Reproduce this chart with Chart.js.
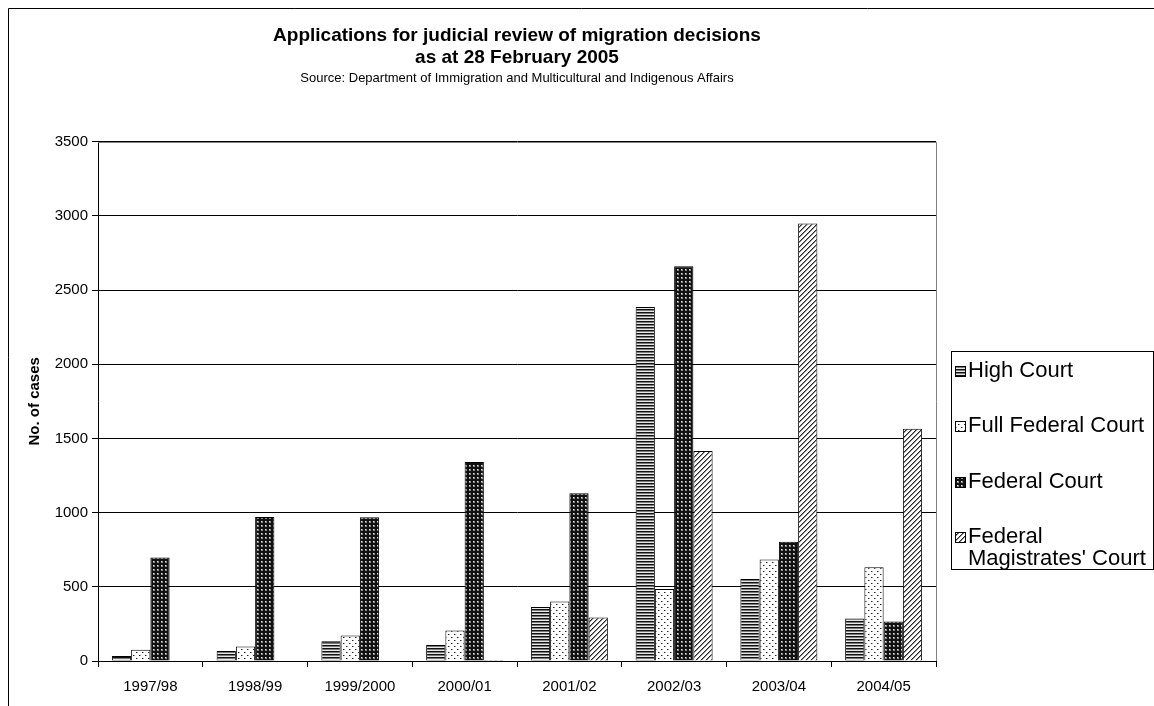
<!DOCTYPE html>
<html>
<head>
<meta charset="utf-8">
<script src="https://cdn.jsdelivr.net/npm/chart.js@4/dist/chart.umd.min.js"></script>
<style>
  html, body { margin: 0; padding: 0; background: #fff; }
  #wrap { position: relative; width: 1154px; height: 706px; }
</style>
</head>
<body>
<div id="wrap"><canvas id="c" width="1154" height="706"></canvas></div>
<script>
const categories = ['1997/98', '1998/99', '1999/2000', '2000/01', '2001/02', '2002/03', '2003/04', '2004/05'];
const seriesNames = ['High Court', 'Full Federal Court', 'Federal Court', "Federal Magistrates' Court"];
const highCourt = [34, 67, 133, 107, 364, 2385, 552, 287];
const fullFederalCourt = [75, 98, 172, 205, 401, 485, 684, 632];
const federalCourt = [697, 970, 968, 1342, 1131, 2660, 804, 267];
const federalMagistratesCourt = [null, null, null, 6, 294, 1415, 2949, 1566];
const yTicks = [0, 500, 1000, 1500, 2000, 2500, 3000, 3500];
const titleLines = ['Applications for judicial review of migration decisions', 'as at 28 February 2005'];
const subtitleText = 'Source: Department of Immigration and Multicultural and Indigenous Affairs';
const yAxisTitle = 'No. of cases';
const legendLines = [['High Court'], ['Full Federal Court'], ['Federal Court'], ['Federal', "Magistrates' Court"]];

const FONT = "'Liberation Sans', Arial, sans-serif";

function makePattern(kind) {
  const c = document.createElement('canvas');
  const ctx = c.getContext('2d');
  if (kind === 'hstripe') {
    c.width = 4; c.height = 3;
    ctx.fillStyle = '#e8e8e8'; ctx.fillRect(0, 0, 4, 3);
    ctx.fillStyle = '#111111'; ctx.fillRect(0, 0, 4, 1);
    ctx.fillStyle = '#7a7a7a'; ctx.fillRect(0, 1, 4, 1);
  } else if (kind === 'dots') {
    c.width = 6; c.height = 6;
    ctx.fillStyle = '#ffffff'; ctx.fillRect(0, 0, 6, 6);
    ctx.fillStyle = '#222222';
    ctx.fillRect(1, 1, 1, 1); ctx.fillRect(4, 4, 1, 1);
    ctx.fillStyle = '#9a9a9a';
    ctx.fillRect(2, 1, 1, 1); ctx.fillRect(5, 4, 1, 1);
  } else if (kind === 'grid') {
    c.width = 4; c.height = 4;
    ctx.fillStyle = '#111111'; ctx.fillRect(0, 0, 4, 4);
    ctx.fillStyle = '#8c8c8c'; ctx.fillRect(1, 1, 2, 2);
    ctx.fillStyle = '#e0e0e0'; ctx.fillRect(1, 1, 1, 1);
  } else if (kind === 'diag') {
    c.width = 5; c.height = 5;
    const img = ctx.createImageData(5, 5);
    for (let y = 0; y < 5; y++) {
      for (let x = 0; x < 5; x++) {
        const m = (x + y) % 5;
        let v = 255;
        if (m === 0) v = 40; else if (m === 1) v = 140;
        const i = (y * 5 + x) * 4;
        img.data[i] = v; img.data[i + 1] = v; img.data[i + 2] = v; img.data[i + 3] = 255;
      }
    }
    ctx.putImageData(img, 0, 0);
  }
  return ctx.createPattern(c, 'repeat');
}

const fills = [makePattern('hstripe'), makePattern('dots'), makePattern('grid'), makePattern('diag')];
const seriesValues = [highCourt, fullFederalCourt, federalCourt, federalMagistratesCourt];

const PLOT_LEFT = 98, PLOT_RIGHT = 936, PLOT_BOTTOM = 661;

const frameAndLegend = {
  id: 'frameAndLegend',
  beforeDraw(chart) {
    const ctx = chart.ctx;
    ctx.save();
    ctx.fillStyle = '#ffffff';
    ctx.fillRect(0, 0, chart.width, chart.height);
    ctx.restore();
  },
  afterDraw(chart) {
    const ctx = chart.ctx;
    const a = chart.chartArea;
    ctx.save();
    // outer frame
    ctx.strokeStyle = '#000';
    ctx.lineWidth = 1;
    ctx.beginPath();
    ctx.moveTo(8.5, chart.height);
    ctx.lineTo(8.5, 8.5);
    ctx.lineTo(chart.width, 8.5);
    ctx.stroke();
    // plot area gray top/right border
    ctx.strokeStyle = '#808080';
    ctx.beginPath();
    ctx.moveTo(a.left, Math.round(a.top) + 0.5);
    ctx.lineTo(Math.round(a.right) + 0.5, Math.round(a.top) + 0.5);
    ctx.lineTo(Math.round(a.right) + 0.5, a.bottom);
    ctx.stroke();
    // legend box
    const bx = 951, by = 351, bw = 202, bh = 218;
    ctx.strokeStyle = '#000';
    ctx.lineWidth = 1;
    ctx.strokeRect(bx + 0.5, by + 0.5, bw, bh);
    const rowY = [371, 426, 482, 537];
    const lineGap = 22;
    ctx.font = '22px ' + FONT;
    ctx.textBaseline = 'middle';
    ctx.textAlign = 'left';
    chart.data.datasets.forEach((ds, i) => {
      const y = rowY[i];
      const sw = 11;
      const sx = 955, sy = Math.round(y - sw / 2);
      ctx.fillStyle = ds.backgroundColor;
      ctx.fillRect(sx, sy, sw, sw);
      ctx.strokeStyle = '#000';
      ctx.strokeRect(sx + 0.5, sy + 0.5, sw - 1, sw - 1);
      ctx.fillStyle = '#000';
      legendLines[i].forEach((t, k) => {
        ctx.fillText(t, 968, y + k * lineGap);
      });
    });
    ctx.restore();
  }
};

new Chart(document.getElementById('c'), {
  type: 'bar',
  data: {
    labels: categories,
    datasets: seriesNames.map((name, i) => ({
      label: name,
      data: seriesValues[i],
      backgroundColor: fills[i],
      borderColor: '#000',
      borderWidth: 1,
      borderSkipped: 'bottom',
      categoryPercentage: 0.735,
      barPercentage: 1.0
    }))
  },
  options: {
    responsive: false,
    animation: false,
    devicePixelRatio: 1,
    layout: { padding: { left: 0, right: 1154 - PLOT_RIGHT, top: 0, bottom: 0 } },
    plugins: {
      legend: { display: false },
      tooltip: { enabled: false },
      title: {
        display: true,
        text: titleLines,
        fullSize: false,
        color: '#000',
        font: { family: FONT, size: 19, weight: 'bold', lineHeight: 1.16 },
        padding: { top: 25, bottom: 2 }
      },
      subtitle: {
        display: true,
        text: subtitleText,
        fullSize: false,
        color: '#000',
        font: { family: FONT, size: 13, weight: 'normal', lineHeight: 1.2 },
        padding: { top: 0, bottom: 55 }
      }
    },
    scales: {
      x: {
        offset: true,
        grid: { display: true, offset: true, drawOnChartArea: false, drawTicks: true, tickLength: 6, color: '#000', lineWidth: 1 },
        border: { display: true, color: '#000', width: 1 },
        ticks: { color: '#000', font: { family: FONT, size: 15 }, padding: 11, maxRotation: 0, autoSkip: false },
        afterFit(scale) { scale.height = 706 - PLOT_BOTTOM; }
      },
      y: {
        min: 0,
        max: 3500,
        afterBuildTicks(scale) { scale.ticks = yTicks.map(v => ({ value: v })); },
        grid: { color: '#000', lineWidth: 1, drawTicks: true, tickLength: 6 },
        border: { display: true, color: '#000', width: 1 },
        ticks: { color: '#000', font: { family: FONT, size: 15 }, padding: 4, callback: (v) => String(v) },
        title: { display: true, text: yAxisTitle, color: '#000', font: { family: FONT, size: 15, weight: 'bold' }, padding: { top: 26, bottom: 0 } },
        afterFit(scale) { scale.width = PLOT_LEFT; }
      }
    }
  },
  plugins: [frameAndLegend]
});
</script>
</body>
</html>
